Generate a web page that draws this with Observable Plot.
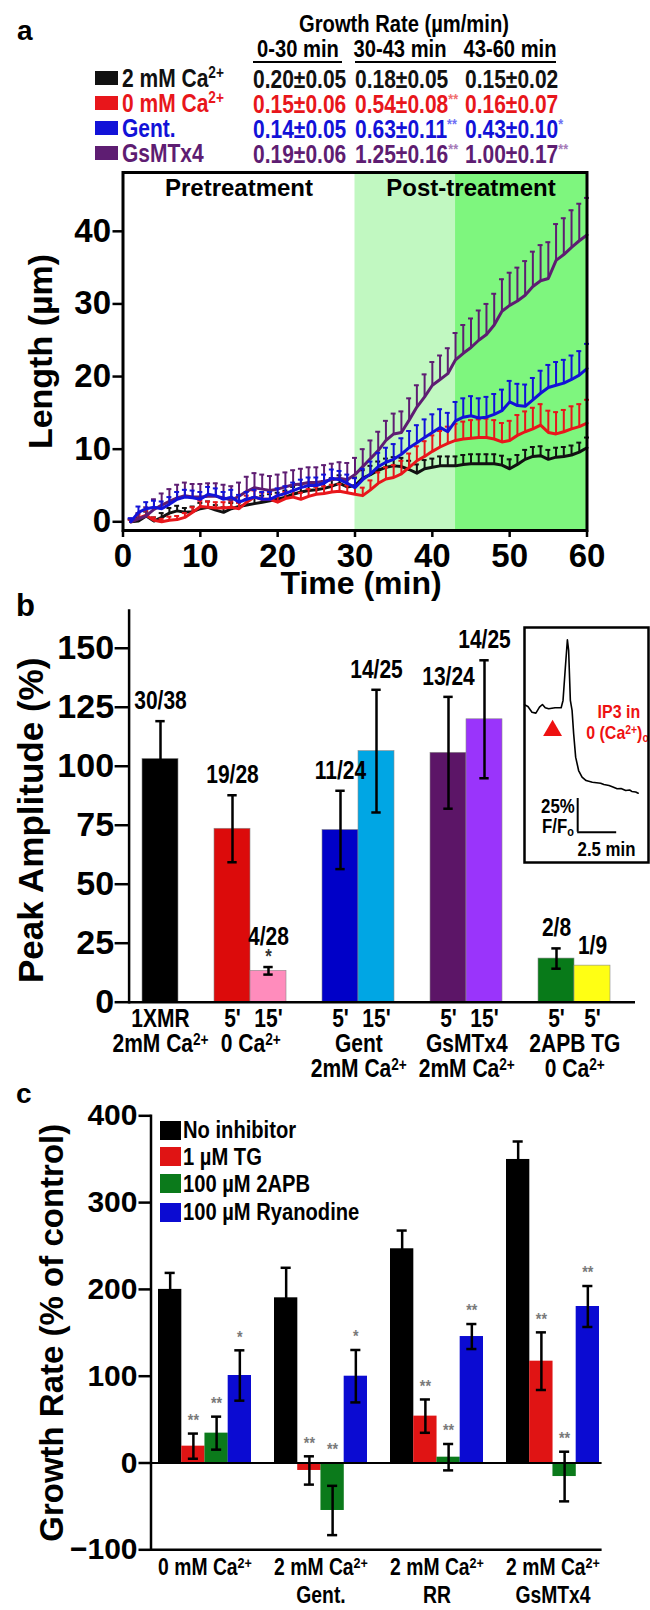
<!DOCTYPE html>
<html><head><meta charset="utf-8">
<script src="https://cdn.jsdelivr.net/npm/d3@7"></script>
<script src="https://cdn.jsdelivr.net/npm/@observablehq/plot@0.6"></script>
<style>
html,body{margin:0;padding:0;background:#fff;}
#root{position:relative;width:650px;height:1610px;overflow:hidden;background:#fff;}
.abs{position:absolute;white-space:nowrap;line-height:1;font-weight:bold;}
</style></head><body><div id="root"></div><script>
// ================= DATA =================
// ---- panel a: length vs time ----
const timeMin = [1,2,3,4,5,6,7,8,9,10,11,12,13,14,15,16,17,18,19,20,21,22,23,24,25,26,27,28,29,30,31,32,33,34,35,36,37,38,39,40,41,42,43,44,45,46,47,48,49,50,51,52,53,54,55,56,57,58,59,60];
const lenCa2 = [0,0.1,0.8,0.1,0.6,1.2,1.5,1.3,1.4,1.8,2.0,1.6,1.3,1.8,2.1,2.3,2.5,2.7,2.9,3.1,3.4,3.8,4.1,4.3,4.4,4.6,4.9,5.3,4.8,5.0,6.0,6.5,7.1,7.5,7.7,7.6,7.2,6.7,7.3,7.5,7.7,7.7,7.7,7.9,8.0,8.0,8.0,8.0,7.8,7.3,7.9,8.6,9.0,9.1,8.6,8.9,9.0,9.2,9.6,10.2];
const semCa2 = [0.3,0.5,0.6,0.5,0.6,0.7,0.7,0.6,0.7,0.8,0.8,0.7,0.7,0.8,0.8,0.8,0.9,0.9,0.9,0.9,0.9,1.0,1.0,1.0,1.0,1.0,1.1,1.1,1.0,1.1,1.1,1.2,1.2,1.2,1.2,1.2,1.2,1.2,1.2,1.2,1.3,1.3,1.3,1.3,1.3,1.3,1.3,1.3,1.3,1.3,1.3,1.3,1.3,1.3,1.3,1.3,1.3,1.3,1.3,1.4];
const len0Ca = [0,0.5,0.9,0.2,0.0,0.2,0.3,0.6,1.3,2.1,2.0,1.9,1.9,2.0,1.8,2.7,3.4,3.1,3.1,2.7,3.2,3.4,3.1,3.5,3.8,3.9,4.1,4.2,4.0,3.8,3.6,4.4,5.3,5.9,6.1,6.6,7.5,8.4,9.0,9.7,10.3,10.8,11.2,11.4,11.5,11.6,11.6,11.4,11.0,11.2,11.9,12.4,12.8,13.3,12.3,12.1,12.4,12.8,13.1,13.6];
const sem0Ca = [0.3,0.5,0.6,0.4,0.4,0.5,0.5,0.6,0.7,0.8,0.8,0.8,0.8,0.8,0.8,0.9,0.9,0.9,0.9,0.9,0.9,0.9,0.9,1.0,1.0,1.0,1.0,1.0,1.0,1.1,1.1,1.3,1.5,1.6,1.7,1.8,1.9,2.0,2.1,2.2,2.2,2.3,2.3,2.4,2.5,2.5,2.6,2.6,2.6,2.7,2.8,2.8,2.9,2.9,3.0,3.0,3.0,3.1,3.1,3.2];
const lenGent = [0,1.3,1.8,2.0,1.8,2.4,3.1,3.4,3.3,3.1,3.8,3.6,3.1,3.4,2.7,3.1,3.4,3.1,3.1,3.6,3.9,4.3,4.7,5.0,5.0,5.3,6.0,5.8,5.3,4.7,5.8,6.6,7.6,8.2,8.6,9.3,10.2,10.9,11.6,12.3,13.0,12.4,13.9,14.4,14.6,14.3,14.4,14.8,15.3,16.5,16.0,15.9,16.8,17.7,18.5,18.8,19.1,19.6,20.2,21.1];
const semGent = [0.5,0.8,0.9,0.9,1.0,1.0,1.0,1.0,1.0,1.0,1.0,1.0,1.0,1.0,1.0,1.0,1.0,1.0,1.0,1.0,1.0,1.1,1.1,1.1,1.1,1.2,1.2,1.2,1.2,1.3,1.5,1.7,1.9,2.0,2.1,2.2,2.3,2.4,2.5,2.5,2.5,2.6,2.6,2.6,2.7,2.7,2.8,2.8,2.9,2.9,3.0,3.0,3.0,3.1,3.1,3.2,3.2,3.3,3.3,3.4];
const lenGsMTx4 = [0,0.4,0.8,1.7,2.3,2.8,3.3,3.6,3.4,3.4,3.5,3.5,3.3,3.0,3.5,4.2,4.7,4.5,4.3,4.5,4.8,5.1,5.2,5.4,5.4,5.6,5.8,6.0,5.8,6.5,7.6,8.7,9.8,11.2,12.1,12.3,14.0,15.8,17.2,18.8,19.6,20.4,22.3,23.2,24.0,25.0,25.8,27.1,29.0,29.8,30.4,31.2,32.4,33.2,33.5,36.0,36.8,37.8,38.7,39.5];
const semGsMTx4 = [0.4,0.8,1.2,1.4,1.6,1.7,1.8,1.8,1.8,1.8,1.8,1.8,1.8,1.9,1.9,2.0,2.0,2.0,2.0,2.0,2.0,2.0,2.1,2.1,2.1,2.2,2.2,2.2,2.3,2.3,2.4,2.5,2.6,2.7,2.8,2.9,3.0,3.0,3.1,3.2,3.3,3.5,3.7,3.9,4.0,4.1,4.2,4.3,4.4,4.5,4.6,4.7,4.8,4.9,5.0,5.0,5.0,5.1,5.1,5.1];
const seriesNames = ["2 mM Ca^{2+}","0 mM Ca^{2+}","Gent.","GsMTx4"];
const seriesColors = ["#111111","#e8161b","#1212d8","#5e1d72"];
const seriesLight = ["#666666","#f06e6e","#6f6ff5","#a57ab8"];
const phaseNames = ["Pretreatment","Post-treatment"];
const phaseStart = [0,30];
const phaseEnd = [30,60];
const windowStart = [30,43];
const windowEnd = [43,60];
const windowFill = ["#c1f8c1","#7ef67e"];
// growth-rate table
const rateTitle = "Growth Rate (µm/min)";
const rateCols = ["0-30 min","30-43 min","43-60 min"];
const rateMean = [[0.20,0.18,0.15],[0.15,0.54,0.16],[0.14,0.63,0.43],[0.19,1.25,1.00]];
const rateSem = [[0.05,0.05,0.02],[0.06,0.08,0.07],[0.05,0.11,0.10],[0.06,0.16,0.17]];
const rateSig = [["","",""],["","**",""],["","**","*"],["","**","**"]];

// ---- panel b: peak amplitude ----
const peakId = ["1XMR","0Ca-5","0Ca-15","Gent-5","Gent-15","Gs-5","Gs-15","2APB-5","TG-5"];
const peakGroup = [0,1,1,2,2,3,3,4,4];
const peakTime = ["1XMR","5'","15'","5'","15'","5'","15'","5'","5'"];
const peakAmp = [103.1,73.5,13.3,73.0,106.4,105.7,119.9,18.5,15.5];
const peakSem = [16.0,14.2,1.6,16.6,26.0,23.7,25.0,4.3,null];
const peakCount = ["30/38","19/28","4/28","11/24","14/25","13/24","14/25","2/8","1/9"];
const peakSig = ["","","*","","","","","",""];
const peakColors = ["#000000","#dc0b0b","#ff8cbc","#0000c8","#00a6e4","#5c1567","#9a34fb","#087a19","#ffff14"];
const groupRow2 = ["2mM Ca^{2+}","0 Ca^{2+}","Gent","GsMTx4","2APB TG"];
const groupRow3 = ["","","2mM Ca^{2+}","2mM Ca^{2+}","0 Ca^{2+}"];
// inset trace (minutes, % F/F0 above final level)
const insetTime = [0,0.22,0.48,0.73,0.96,1.15,1.33,1.55,1.96,2.35,2.47,2.62,2.75,2.83,2.94,3.05,3.15,3.28,3.47,3.69,3.95,4.35,4.88,5.09,5.42,5.67,5.94,6.19,6.49,6.74,6.88,7.13,7.29];
const insetF = [65.5,64.2,60.0,59.3,63.7,65.7,63.3,62.5,63.3,63.3,68.7,93.3,113.6,105.7,68.7,61.3,44.2,26.7,16.8,11.9,9.4,8.1,7.4,6.4,5.7,4.6,3.3,3.5,2.0,2.4,1.3,0.9,0.0];
const ip3Time = 1.8, ip3Level = 46.4;
const scaleBarTime = 3.41, scaleBarLevel = -28.9, scaleBarDT = 2.5, scaleBarDF = 25;

// ---- panel c: growth rate with inhibitors ----
const condLine1 = ["0 mM Ca^{2+}","2 mM Ca^{2+}","2 mM Ca^{2+}","2 mM Ca^{2+}"];
const condLine2 = ["","Gent.","RR","GsMTx4"];
const inhibitors = ["No inhibitor","1 µM TG","100 µM 2APB","100 µM Ryanodine"];
const inhibColors = ["#000000","#e01414","#0b7a1b","#0b0bd2"];
const growthMean = [[200,19.4,34.4,100.8],[190.3,-8.6,-54.7,100],[246.8,54,6.7,145.7],[349.7,117.3,-15.6,180.3]];
const growthSem = [[19,14.5,19,29],[34.6,16.3,28.4,30.2],[21,19.2,15.2,14.4],[20.7,33.2,28.6,23.6]];
const growthSig = [["","**","**","*"],["","**","**","*"],["","**","**","**"],["","**","**","**"]];

// ================= HELPERS =================
const SANS = '"Liberation Sans",Arial,Helvetica,sans-serif';
const NARROW = '"Liberation Sans",Arial,sans-serif,narrowx';   // condensed via textLength
const KN = 0.84;
const root = document.getElementById("root");
const SVGNS = "http://www.w3.org/2000/svg";

function richify(svg){
  svg.querySelectorAll("text").forEach(t=>{
    const spans = t.querySelectorAll("tspan");
    const targets = spans.length ? Array.from(spans) : [t];
    targets.forEach(node=>{
      const s = node.textContent;
      if(!/[\^_]\{/.test(s)) return;
      while(node.firstChild) node.removeChild(node.firstChild);
      s.split(/([\^_]\{[^}]*\})/).forEach(part=>{
        if(!part) return;
        const m = part.match(/^([\^_])\{([^}]*)\}$/);
        if(m){
          const ts = document.createElementNS(SVGNS,"tspan");
          ts.style.fontSize = "0.65em";
          ts.setAttribute("baseline-shift", m[1]==="^" ? "45%" : "-25%");
          ts.textContent = m[2];
          node.appendChild(ts);
        } else node.appendChild(document.createTextNode(part));
      });
    });
  });
}
function condense(svg){
  svg.querySelectorAll("g").forEach(g=>{
    const ff = g.getAttribute("font-family");
    if(!ff || !ff.includes("narrowx")) return;
    g.querySelectorAll("text").forEach(t=>{
      const L = t.getComputedTextLength();
      if(L>0){ t.setAttribute("textLength",(L*KN).toFixed(2)); t.setAttribute("lengthAdjust","spacingAndGlyphs"); }
    });
  });
}
function place(svg, top, left=0){
  svg.style.position="absolute"; svg.style.top=top+"px"; svg.style.left=left+"px";
  svg.style.overflow="visible"; svg.style.maxWidth="none";
  root.appendChild(svg); richify(svg); condense(svg);
}
function toHtml(s){
  return s.replace(/\^\{([^}]*)\}/g,'<sup style="font-size:65%;vertical-align:0.5em;line-height:0">$1</sup>')
          .replace(/_\{([^}]*)\}/g,'<sub style="font-size:65%;vertical-align:-0.2em;line-height:0">$1</sub>');
}
function htmlText(html, x, y, {size=22,color="#000",anchor="start",narrow=true}={}){
  const d = document.createElement("div");
  d.className="abs";
  d.style.left=x+"px"; d.style.top=y+"px"; d.style.fontSize=size+"px";
  d.style.color=color; d.style.fontFamily=SANS;
  const tx = anchor==="middle"?"-50%":anchor==="end"?"-100%":"0";
  const ox = anchor==="middle"?"50%":anchor==="end"?"100%":"0";
  d.style.transformOrigin=`${ox} 50%`;
  d.style.transform=`translate(${tx},-50%)` + (narrow?` scaleX(${KN})`:"");
  d.innerHTML=html; root.appendChild(d); return d;
}
function box(x,y,w,h,color){
  const d=document.createElement("div");
  d.style.cssText=`position:absolute;left:${x}px;top:${y}px;width:${w}px;height:${h}px;background:${color}`;
  root.appendChild(d);
}
const svgStyle = {fontFamily:SANS, fontWeight:"bold", color:"#000", background:"transparent", overflow:"visible"};

// ================= PANEL A =================
const lenVals=[lenCa2,len0Ca,lenGent,lenGsMTx4], semVals=[semCa2,sem0Ca,semGent,semGsMTx4];
const lenData = [];
lenVals.forEach((arr,s)=>arr.forEach((v,i)=>lenData.push({s,t:timeMin[i],v,e:semVals[s][i]})));
const windows = windowStart.map((x1,i)=>({x1,x2:windowEnd[i],fill:windowFill[i]}));
const phases = phaseNames.map((label,i)=>({label,x:(phaseStart[i]+phaseEnd[i])/2}));
const seriesMarks = [];
[0,1,3,2].forEach(s=>{
  const d = lenData.filter(r=>r.s===s), c = seriesColors[s];
  seriesMarks.push(
    Plot.ruleX(d,{x:"t",y1:"v",y2:r=>r.v+r.e,stroke:c,strokeWidth:2}),
    Plot.ruleY(d,{y:r=>r.v+r.e,x1:r=>r.t-0.32,x2:r=>r.t+0.32,stroke:c,strokeWidth:2}),
    Plot.line(d,{x:"t",y:"v",stroke:c,strokeWidth:3,strokeLinejoin:"round"})
  );
});
const plotA = Plot.plot({
  width:650,height:440,marginTop:12,marginLeft:122.5,marginRight:63.5,marginBottom:70,
  style:svgStyle,
  x:{domain:[0,60],axis:null,label:null},
  y:{domain:[-1.2,48.1],axis:null,label:null},
  marks:[
    Plot.rect(windows,{x1:"x1",x2:"x2",fill:"fill"}),
    ...seriesMarks,
    Plot.frame({stroke:"#000",strokeWidth:3}),
    Plot.axisX({ticks:[0,10,20,30,40,50,60],tickSize:7,tickPadding:6,fontSize:33,fontWeight:"bold",strokeWidth:2.5,label:null}),
    Plot.axisY({ticks:[0,10,20,30,40],tickSize:10,tickPadding:2,fontSize:33,fontWeight:"bold",strokeWidth:2.5,label:null}),
    Plot.text(["Time (min)"],{frameAnchor:"bottom",lineAnchor:"middle",dy:53,dx:6,fontSize:32,fontWeight:"bold"}),
    Plot.text(["Length (µm)"],{frameAnchor:"left",textAnchor:"middle",rotate:-90,dx:-81.5,fontSize:34,fontWeight:"bold"}),
    Plot.text(phases,{x:"x",frameAnchor:"top",lineAnchor:"middle",dy:16,text:"label",fontSize:24,fontWeight:"bold"})
  ]
});
place(plotA,160);

// header table
htmlText("a",17,31,{size:28,narrow:false});
htmlText(toHtml(rateTitle),403.5,24,{size:24,anchor:"middle"});
const colCenter=[297.7,400.4,510], colLeft=[253,354.8,465];
rateCols.forEach((c,i)=>htmlText(c,colCenter[i],49,{size:24,anchor:"middle"}));
box(253,60.5,89,2.5,"#000"); box(354.8,60.5,201.2,2.5,"#000");
const rowY=[78.3,103.3,128.3,153.3];
seriesNames.forEach((n,r)=>{
  box(95.4,rowY[r]-7,22.6,14,seriesColors[r]);
  htmlText(toHtml(n),122.4,rowY[r],{size:25,color:seriesColors[r]});
  rateMean[r].forEach((m,c)=>{
    const sig = rateSig[r][c] ? `<sup style="font-size:60%;vertical-align:0.55em;line-height:0;color:${seriesLight[r]}">${rateSig[r][c]}</sup>` : "";
    htmlText(`${m.toFixed(2)}±${rateSem[r][c].toFixed(2)}${sig}`,colLeft[c],rowY[r]+1,{size:25,color:seriesColors[r]});
  });
});

// ================= PANEL B =================
const peak = peakId.map((id,i)=>({id,g:peakGroup[i],time:peakTime[i],v:peakAmp[i],e:peakSem[i],n:peakCount[i],sig:peakSig[i],color:peakColors[i]}));
const slots=[]; peak.forEach((d,i)=>{ if(i>0 && d.g!==peak[i-1].g) slots.push("gap"+i); slots.push(d.id); });
const bInsetL=9.4, bInsetR=21, bMarginL=128.6, bMarginR=15;
const stepB=(650-bMarginR-bInsetR-(bMarginL+bInsetL))/slots.length;
const groups = groupRow2.map((r2,g)=>{ const m=peak.filter(d=>d.g===g); return {first:m[0].id,span:m.length,r2,r3:groupRow3[g]}; });
const withErr = peak.filter(d=>d.e!=null);
const capB = (stepB-10)/2;
const tb = {fontFamily:NARROW,fontWeight:"bold",fontSize:25};
const plotB = Plot.plot({
  width:650,height:495,marginTop:15,marginLeft:bMarginL,marginRight:bMarginR,marginBottom:88.3,
  insetLeft:bInsetL,insetRight:bInsetR,style:svgStyle,
  x:{type:"band",domain:slots,padding:0,axis:null,label:null},
  y:{domain:[0,166],axis:null,label:null},
  marks:[
    Plot.barY(peak,{x:"id",y:"v",fill:"color",stroke:"#8a8a8a",strokeWidth:0.6}),
    Plot.ruleX(withErr,{x:"id",y1:d=>d.v-d.e,y2:d=>d.v+d.e,strokeWidth:2.5}),
    Plot.tickY(withErr,{x:"id",y:d=>d.v+d.e,insetLeft:capB,insetRight:capB,strokeWidth:2.5}),
    Plot.tickY(withErr,{x:"id",y:d=>d.v-d.e,insetLeft:capB,insetRight:capB,strokeWidth:2.5}),
    Plot.ruleY([0],{strokeWidth:2.5}),
    Plot.frame({anchor:"left",strokeWidth:2.5}),
    Plot.axisY({ticks:[0,25,50,75,100,125,150],tickSize:14,tickPadding:1,fontSize:34,fontWeight:"bold",strokeWidth:2.5,label:null}),
    Plot.text(peak.filter(d=>!d.sig),{x:"id",y:d=>d.v+(d.e||0),dy:-20,text:"n",...tb}),
    Plot.text(peak.filter(d=>d.sig),{x:"id",y:d=>d.v+(d.e||0),dy:-30,text:"n",...tb}),
    Plot.text(peak.filter(d=>d.sig),{x:"id",y:d=>d.v+(d.e||0),dy:-10,text:"sig",fill:"#333",...tb,fontSize:20}),
    Plot.text(peak,{x:"id",y:0,dy:17,text:"time",...tb}),
    Plot.text(groups.filter(g=>g.span===1),{x:"first",y:0,dy:42,text:"r2",...tb}),
    Plot.text(groups.filter(g=>g.span===2),{x:"first",y:0,dx:stepB/2,dy:42,text:"r2",...tb}),
    Plot.text(groups.filter(g=>g.span===2),{x:"first",y:0,dx:stepB/2,dy:67,text:"r3",...tb}),
    Plot.text(["Peak Amplitude (%)"],{frameAnchor:"left",textAnchor:"middle",rotate:-90,dx:-97.6,dy:14,fontSize:35,fontWeight:"bold"})
  ]
});
place(plotB,595);
htmlText("b",16,605,{size:31,narrow:false});

// inset
const inset = insetTime.map((t,i)=>({t,f:insetF[i]}));
const ti = {fontFamily:NARROW,fontWeight:"bold",fontSize:20};
const plotInset = Plot.plot({
  width:131,height:235,marginTop:0,marginBottom:0,marginRight:0,marginLeft:7,style:{...svgStyle,background:"#fff"},
  x:{domain:[0,7.95],axis:null,label:null},
  y:{domain:[-51.3,122.7],axis:null,label:null},
  marks:[
    Plot.line(inset,{x:"t",y:"f",strokeWidth:1.6}),
    Plot.dot([{t:ip3Time,f:ip3Level}],{x:"t",y:"f",symbol:"triangle",r:7,fill:"#ee1111",stroke:null}),
    Plot.ruleX([0],{x:()=>scaleBarTime,y1:()=>scaleBarLevel,y2:()=>scaleBarLevel+scaleBarDF,strokeWidth:2}),
    Plot.ruleY([0],{y:()=>scaleBarLevel,x1:()=>scaleBarTime,x2:()=>scaleBarTime+scaleBarDT,strokeWidth:2}),
    Plot.text(["IP3 in"],{frameAnchor:"top-left",textAnchor:"middle",lineAnchor:"middle",dx:94.4,dy:84,fill:"#ee1111",...ti,fontSize:19}),
    Plot.text(["0 (Ca^{2+})_{o}"],{frameAnchor:"top-left",textAnchor:"middle",lineAnchor:"middle",dx:93,dy:105,fill:"#ee1111",...ti,fontSize:19}),
    Plot.text(["25%"],{frameAnchor:"top-left",textAnchor:"middle",lineAnchor:"middle",dx:33.4,dy:179,...ti}),
    Plot.text(["F/F_{o}"],{frameAnchor:"top-left",textAnchor:"middle",lineAnchor:"middle",dx:33.4,dy:199,...ti}),
    Plot.text(["2.5 min"],{frameAnchor:"top-left",textAnchor:"middle",lineAnchor:"middle",dx:82,dy:222,...ti}),
    Plot.frame({strokeWidth:2.5})
  ]
});
place(plotInset,627,516.6);

// ================= PANEL C =================
const cMarginL=150.5,cMarginR=48.4,cInsetL=7.2,cInsetR=2.6;
const stepC=(650-cMarginR-cInsetR-(cMarginL+cInsetL))/(4-0.2);
const bwC=stepC*0.8/4;
const growth=[];
growthMean.forEach((row,c)=>row.forEach((v,i)=>growth.push({c:condLine1[c]+"|"+condLine2[c],i,v,e:growthSem[c][i],sig:growthSig[c][i]})));
const conds = condLine1.map((l1,c)=>({c:l1+"|"+condLine2[c],l1,l2:condLine2[c]}));
const cMarks=[];
inhibitors.forEach((name,i)=>{
  cMarks.push(Plot.barY(growth.filter(d=>d.i===i),{x:"c",y:"v",fill:inhibColors[i],insetLeft:i*bwC,insetRight:(3-i)*bwC}));
});
cMarks.push(Plot.ruleY([0],{strokeWidth:1.8}));
inhibitors.forEach((name,i)=>{
  const d=growth.filter(r=>r.i===i), capL=i*bwC+(bwC-10)/2, capR=(3-i)*bwC+(bwC-10)/2;
  cMarks.push(
    Plot.ruleX(d,{x:"c",y1:r=>r.v-r.e,y2:r=>r.v+r.e,dx:(i-1.5)*bwC,strokeWidth:2.5}),
    Plot.tickY(d,{x:"c",y:r=>r.v+r.e,insetLeft:capL,insetRight:capR,strokeWidth:2.5}),
    Plot.tickY(d,{x:"c",y:r=>r.v-r.e,insetLeft:capL,insetRight:capR,strokeWidth:2.5}),
    Plot.text(d.filter(r=>r.sig),{x:"c",y:r=>Math.max(r.v+r.e,0),dx:(i-1.5)*bwC,dy:-13,text:"sig",fill:"#7a7a7a",fontSize:17,fontFamily:NARROW,fontWeight:"bold"})
  );
});
const plotC = Plot.plot({
  width:650,height:515,marginTop:20.3,marginLeft:cMarginL,marginRight:cMarginR,marginBottom:60.7,
  insetLeft:cInsetL,insetRight:cInsetR,style:svgStyle,
  x:{type:"band",domain:conds.map(d=>d.c),paddingInner:0.2,paddingOuter:0,axis:null,label:null},
  y:{domain:[-100,400],axis:null,label:null},
  marks:[
    ...cMarks,
    Plot.ruleY([-100],{strokeWidth:2.5}),
    Plot.frame({anchor:"left",strokeWidth:2.5}),
    Plot.axisY({ticks:[-100,0,100,200,300,400],tickSize:12,tickPadding:1.5,fontSize:30,fontWeight:"bold",strokeWidth:2.5,label:null}),
    Plot.text(conds,{x:"c",y:-100,dy:18,text:"l1",fontSize:23,fontFamily:NARROW,fontWeight:"bold"}),
    Plot.text(conds,{x:"c",y:-100,dy:46,text:"l2",fontSize:23,fontFamily:NARROW,fontWeight:"bold"}),
    Plot.text(["Growth Rate (% of control)"],{frameAnchor:"left",textAnchor:"middle",rotate:-90,dx:-98.5,fontSize:33,fontWeight:"bold"})
  ]
});
place(plotC,1095);
htmlText("c",16,1094,{size:28,narrow:false});
// legend c
const legY=[1130,1156.5,1183.5,1212];
inhibitors.forEach((n,i)=>{ box(160,legY[i]-9.5,20.5,19,inhibColors[i]); htmlText(n,183,legY[i],{size:24}); });
</script></body></html>
